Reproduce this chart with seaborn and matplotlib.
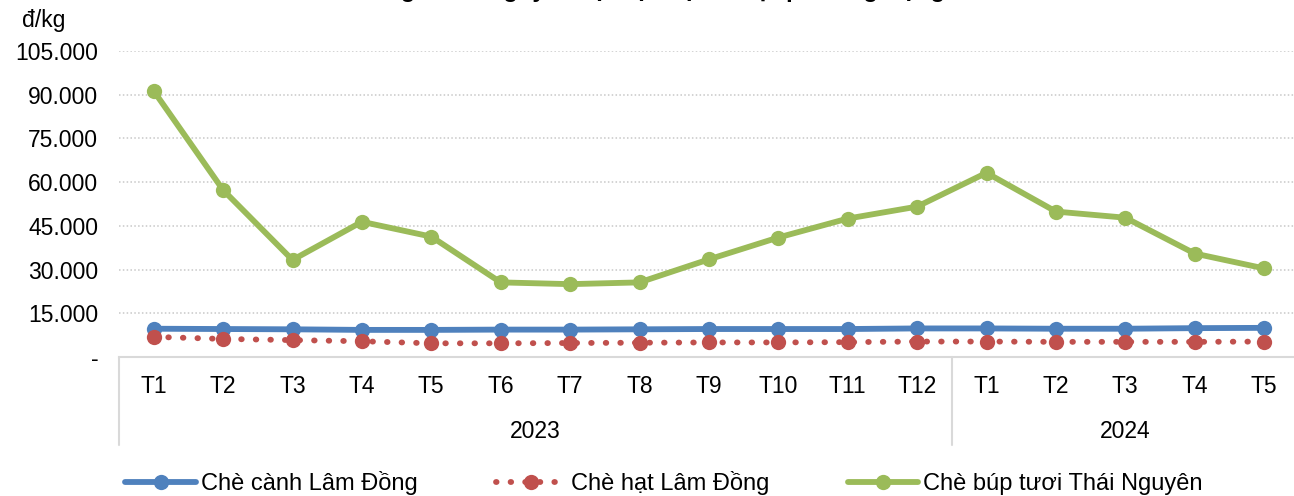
import pandas as pd
import matplotlib.pyplot as plt
import matplotlib.transforms as mtransforms
from matplotlib.ticker import FuncFormatter
import seaborn as sns

sns.set_theme(style="white")
plt.rcParams['font.family'] = ['Liberation Sans', 'DejaVu Sans']
plt.rcParams['text.color'] = 'black'

MONTHS = ['T1', 'T2', 'T3', 'T4', 'T5', 'T6', 'T7', 'T8', 'T9', 'T10', 'T11', 'T12',
          'T1', 'T2', 'T3', 'T4', 'T5']
YEARS = ['2023'] * 12 + ['2024'] * 5

CHE_CANH = [9700, 9600, 9500, 9300, 9300, 9400, 9400, 9500, 9600, 9600, 9600, 9800,
            9800, 9700, 9700, 9900, 10000]
CHE_HAT = [6900, 6200, 5800, 5400, 4700, 4700, 4800, 4900, 5000, 5000, 5100, 5300,
           5300, 5200, 5200, 5200, 5300]
CHE_BUP = [91300, 57300, 33300, 46400, 41300, 25600, 25000, 25600, 33500, 41000, 47500, 51600,
           63200, 49900, 47800, 35500, 30400]

SERIES_NAMES = ['Chè cành Lâm Đồng', 'Chè hạt Lâm Đồng', 'Chè búp tươi Thái Nguyên']
Y_TICKS = [0, 15000, 30000, 45000, 60000, 75000, 90000, 105000]

TITLE = 'Diễn biến giá chè nguyên liệu tại một số địa phương trọng điểm'

W, H = 1294, 496


def fmt_vnd(v, pos):
    if v == 0:
        return '-'
    return f"{int(v):,}".replace(',', '.')


def main():
    idx = list(range(len(MONTHS)))
    df = pd.DataFrame({
        'idx': idx * 3,
        'gia': CHE_CANH + CHE_HAT + CHE_BUP,
        'loai': [SERIES_NAMES[0]] * len(idx) + [SERIES_NAMES[1]] * len(idx) + [SERIES_NAMES[2]] * len(idx),
    })

    fig = plt.figure(figsize=(W / 100, H / 100), dpi=100)
    left, right = 119 / W, 1.0
    bottom, top = 1 - 357 / H, 1 - 51 / H
    ax = fig.add_axes([left, bottom, right - left, top - bottom])

    styles = {
        SERIES_NAMES[0]: dict(color='#4F81BD', linestyle='-'),
        SERIES_NAMES[1]: dict(color='#C0504D', linestyle=(0, (0.1, 2.4))),
        SERIES_NAMES[2]: dict(color='#9BBB59', linestyle='-'),
    }
    # green first so blue/red sit on top like in the original
    for name in [SERIES_NAMES[2], SERIES_NAMES[0], SERIES_NAMES[1]]:
        sub = df[df['loai'] == name]
        sns.lineplot(data=sub, x='idx', y='gia', ax=ax, label=name, marker='o', markersize=11,
                     markeredgewidth=0, linewidth=4.2, dash_capstyle='round', solid_capstyle='round',
                     **styles[name])

    ax.set_xlim(-0.5, (W - 119) / 69.4 - 0.5)
    ax.set_ylim(0, 105000)
    ax.set_yticks(Y_TICKS)
    ax.yaxis.set_major_formatter(FuncFormatter(fmt_vnd))
    ax.set_xticks(idx)
    ax.set_xticklabels(MONTHS)
    ax.tick_params(axis='x', length=0, pad=13, labelsize=16.5, colors='black')
    ax.tick_params(axis='y', length=0, pad=15, labelsize=16.5, colors='black')
    ax.set_xlabel('')
    ax.set_ylabel('')

    for y in Y_TICKS[1:]:
        ax.axhline(y, color='#c8c8c8', linewidth=1.1, linestyle=(0, (1, 1.5)), zorder=0)
    for s in ['left', 'right', 'top']:
        ax.spines[s].set_visible(False)
    ax.spines['bottom'].set_color('#d9d9d9')
    ax.spines['bottom'].set_linewidth(1.5)

    # two-level category axis: separators and year labels
    trans = mtransforms.blended_transform_factory(ax.transData, ax.transAxes)
    y_low = -(445 - 357) / (357 - 51)
    for xs in [-0.5, 11.5]:
        ax.plot([xs, xs], [0, y_low], transform=trans, color='#d9d9d9', linewidth=1.5, clip_on=False)
    year_y = -(431 - 357) / (357 - 51)
    for yr in ['2023', '2024']:
        pos = [i for i, y in zip(idx, YEARS) if y == yr]
        ax.text((pos[0] + pos[-1]) / 2, year_y, yr, transform=trans, ha='center', va='center',
                fontsize=16.5, color='black')

    fig.text(22 / W, 1 - 20 / H, 'đ/kg', ha='left', va='center', fontsize=16.5, color='black')
    # the original title is cropped by the image edge, only descenders peek in
    fig.text(0.5, 1 + 3 / H, TITLE, ha='center', va='baseline', fontsize=17, fontweight='bold', color='black')

    handles, labels = ax.get_legend_handles_labels()
    order = [labels.index(n) for n in SERIES_NAMES]
    ax.get_legend().remove()
    leg = fig.legend([handles[i] for i in order], [labels[i] for i in order], loc='center',
                     bbox_to_anchor=(664 / W, 1 - 483 / H), ncol=3, frameon=False, fontsize=17,
                     handlelength=3, handletextpad=0.2, columnspacing=3.3, borderaxespad=0)
    for t in leg.get_texts():
        t.set_color('black')

    fig.savefig('out.png', dpi=100)
    plt.close(fig)


if __name__ == "__main__":
    main()
